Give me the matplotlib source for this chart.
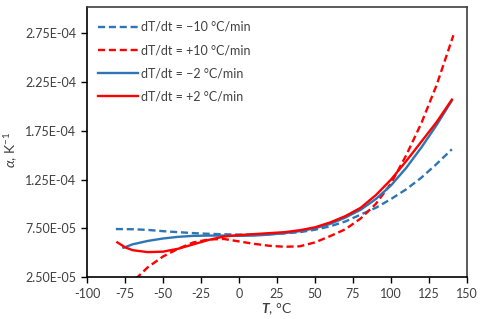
import matplotlib
matplotlib.use("Agg")
import matplotlib.pyplot as plt
from matplotlib.ticker import FixedLocator

plt.rcParams['font.family'] = ['Lato', 'DejaVu Sans']
plt.rcParams['mathtext.fontset'] = 'custom'
plt.rcParams['mathtext.rm'] = 'Lato'
plt.rcParams['mathtext.it'] = 'Lato:italic'
plt.rcParams['mathtext.bf'] = 'Lato:bold'
plt.rcParams['mathtext.bfit'] = 'Lato:bold:italic'

# Data (alpha in units of 1e-5 K^-1)
T_m10 = [-81, -70, -60, -50, -40, -30, -20, -10, 0, 10, 20, 30, 40, 50, 60, 70, 80, 90, 100, 110, 120, 130, 140]
a_m10 = [7.42, 7.40, 7.33, 7.2, 7.1, 7.0, 6.93, 6.88, 6.85, 6.85, 6.9, 6.98, 7.1, 7.35, 7.7, 8.2, 8.9, 9.6, 10.5, 11.5, 12.7, 14.1, 15.6]

T_p10 = [-68, -60, -50, -40, -30, -20, -10, 0, 10, 20, 30, 40, 50, 60, 70, 80, 90, 100, 110, 120, 130, 141]
a_p10 = [2.3, 3.5, 4.6, 5.4, 6.05, 6.35, 6.4, 6.15, 5.9, 5.7, 5.6, 5.65, 6.05, 6.7, 7.4, 8.5, 10.0, 12.1, 15.0, 18.3, 22.2, 27.3]

T_m2 = [-76, -70, -60, -50, -40, -30, -20, -10, 0, 10, 20, 30, 40, 50, 60, 70, 80, 90, 100, 110, 120, 130, 140]
a_m2 = [5.5, 5.85, 6.2, 6.45, 6.62, 6.72, 6.75, 6.75, 6.72, 6.75, 6.85, 7.0, 7.2, 7.5, 7.95, 8.6, 9.4, 10.5, 11.9, 13.7, 15.8, 18.1, 20.6]

T_p2 = [-80, -75, -70, -60, -50, -40, -30, -20, -10, 0, 10, 20, 30, 40, 50, 60, 70, 80, 90, 100, 110, 120, 130, 140]
a_p2 = [6.05, 5.55, 5.25, 5.05, 5.1, 5.4, 5.85, 6.3, 6.65, 6.8, 6.9, 7.0, 7.1, 7.3, 7.6, 8.1, 8.75, 9.6, 10.9, 12.5, 14.4, 16.4, 18.4, 20.7]

labels = ["dT/dt = \u221210 \u00b0C/min", "dT/dt = +10 \u00b0C/min",
          "dT/dt = \u22122 \u00b0C/min", "dT/dt = +2 \u00b0C/min"]

x_ticks = [-100, -75, -50, -25, 0, 25, 50, 75, 100, 125, 150]
y_ticks = [2.5e-5, 7.5e-5, 1.25e-4, 1.75e-4, 2.25e-4, 2.75e-4]
y_tick_labels = ["2.50E-05", "7.50E-05", "1.25E-04", "1.75E-04", "2.25E-04", "2.75E-04"]

blue = "#2E75B6"
red = "#FF0000"

fig = plt.figure(figsize=(4.82, 3.19), dpi=100)
ax = fig.add_axes([0.1805, 0.1317, 0.7885, 0.8463])

def sc(v):
    return [x * 1e-5 for x in v]

lw = 1.7
ax.plot(T_m10, sc(a_m10), color=blue, lw=lw, dashes=(3, 1.6), label=labels[0])
ax.plot(T_p10, sc(a_p10), color=red, lw=lw, dashes=(3, 1.6), label=labels[1])
ax.plot(T_m2, sc(a_m2), color=blue, lw=lw, label=labels[2])
ax.plot(T_p2, sc(a_p2), color=red, lw=lw, label=labels[3])

ax.set_xlim(-100, 150)
ax.set_ylim(2.5e-5, 3.02e-4)
ax.xaxis.set_major_locator(FixedLocator(x_ticks))
ax.set_xticklabels([str(t) for t in x_ticks])
ax.set_yticks(y_ticks)
ax.set_yticklabels(y_tick_labels)
ax.tick_params(axis='both', labelsize=9, colors='black', labelcolor='#404040',
               direction='out', length=4, width=1)
ax.tick_params(axis='x', pad=4)
for s in ['left', 'bottom']:
    ax.spines[s].set_color('black')
    ax.spines[s].set_linewidth(1.2)
for s in ['top', 'right']:
    ax.spines[s].set_color('#404040')
    ax.spines[s].set_linewidth(1.2)

ax.set_xlabel("$\\bfit{T}$, \u00b0C", fontsize=10, color='#404040')
ax.xaxis.set_label_coords(0.5, -0.09)
ax.set_ylabel("$\\it{\u03b1}$, K$^{-1}$", fontsize=10, color='#404040')
ax.yaxis.set_label_coords(-0.175, 0.47)

leg = ax.legend(loc='upper left', frameon=False, fontsize=9, handlelength=3.2,
                handletextpad=0.25, labelspacing=0.9, borderaxespad=0.5,
                bbox_to_anchor=(0.0, 0.99))
for t in leg.get_texts():
    t.set_color('#404040')

fig.savefig("out.png", dpi=100)
